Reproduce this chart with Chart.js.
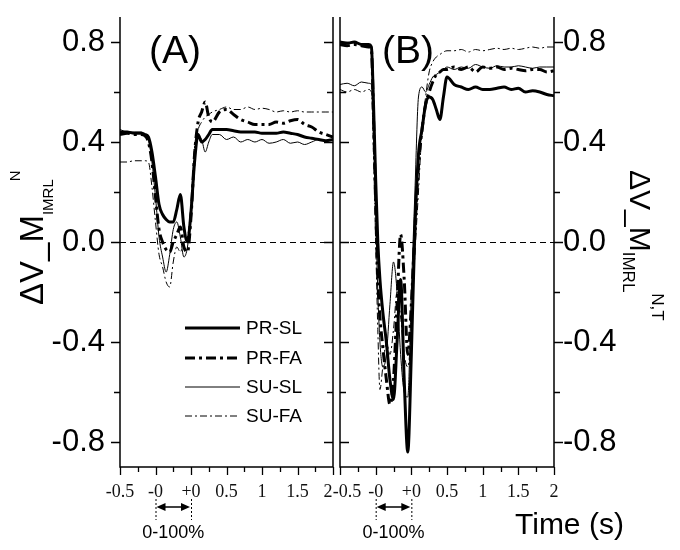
<!DOCTYPE html>
<html><head><meta charset="utf-8">
<script src="https://cdn.jsdelivr.net/npm/chart.js@4.4.0/dist/chart.umd.min.js"></script>
<style>
html,body{margin:0;padding:0;background:#fff;width:680px;height:550px;overflow:hidden}
#cA{position:absolute;left:0;top:0}
#cB{position:absolute;left:300px;top:0}
</style></head><body>
<canvas id="cA" width="340" height="550"></canvas>
<canvas id="cB" width="380" height="550"></canvas>
<script>
// ---- axis ticks ----
const xTickValues = [-0.5, 0, 0.5, 1, 1.5, 2, 2.5];
const xTickLabels = ["-0.5", "-0", "+0", "0.5", "1", "1.5", "2"];
const yTickValues = [-0.8, -0.4, 0, 0.4, 0.8];
const seriesNames = ["PR-SL", "PR-FA", "SU-SL", "SU-FA"];

// ---- panel (A) ----
const phaseA = [-0.5,-0.4,-0.3,-0.2,-0.15,-0.1,-0.05,0,0.05,0.1,0.15,0.2,0.25,0.3,0.35,0.4,0.45,0.5,0.55,0.6,0.65,0.7,0.75,0.8,0.9,1.0,1.1,1.2,1.3,1.4,1.5,1.6,1.7,1.8,1.9,2.0,2.1,2.2,2.3,2.4,2.5];
const prSL_A = [0.44,0.44,0.435,0.435,0.43,0.42,0.36,0.26,0.15,0.11,0.09,0.08,0.08,0.13,0.19,0.06,0.0,0.12,0.32,0.43,0.40,0.41,0.43,0.45,0.45,0.45,0.445,0.44,0.44,0.44,0.435,0.435,0.435,0.44,0.435,0.43,0.42,0.415,0.41,0.405,0.41];
const prFA_A = [0.43,0.435,0.43,0.43,0.425,0.40,0.32,0.18,0.05,0.0,-0.03,-0.04,0.0,0.03,0.06,-0.02,-0.04,0.10,0.35,0.48,0.52,0.56,0.50,0.48,0.52,0.53,0.51,0.49,0.48,0.47,0.47,0.47,0.48,0.475,0.485,0.49,0.47,0.46,0.44,0.43,0.42];
const suSL_A = [0.45,0.44,0.44,0.44,0.43,0.41,0.32,0.18,0.02,-0.06,-0.12,-0.05,0.05,0.08,0.02,-0.06,-0.02,0.12,0.32,0.42,0.41,0.36,0.40,0.43,0.43,0.41,0.42,0.40,0.41,0.40,0.41,0.395,0.40,0.41,0.395,0.40,0.39,0.40,0.41,0.405,0.41];
const suFA_A = [0.32,0.32,0.325,0.325,0.325,0.32,0.22,0.08,-0.05,-0.10,-0.16,-0.18,-0.08,-0.02,-0.04,0.0,0.02,0.15,0.38,0.45,0.48,0.50,0.51,0.52,0.53,0.54,0.53,0.53,0.54,0.53,0.535,0.53,0.52,0.525,0.52,0.525,0.52,0.52,0.52,0.52,0.52];

// ---- panel (B) ----
const phaseB = [-0.5,-0.4,-0.3,-0.2,-0.1,-0.06,-0.03,0,0.03,0.06,0.1,0.15,0.2,0.25,0.3,0.35,0.4,0.45,0.5,0.55,0.6,0.65,0.7,0.75,0.8,0.85,0.9,0.95,1.0,1.1,1.2,1.3,1.4,1.5,1.6,1.7,1.8,1.9,2.0,2.1,2.2,2.3,2.4,2.5];
const prSL_B = [0.80,0.795,0.80,0.79,0.79,0.78,0.55,0.25,0.0,-0.15,-0.28,-0.40,-0.55,-0.63,-0.40,-0.15,-0.55,-0.84,-0.45,0.05,0.35,0.45,0.55,0.58,0.57,0.53,0.49,0.58,0.66,0.63,0.62,0.61,0.62,0.61,0.61,0.615,0.62,0.61,0.615,0.60,0.605,0.60,0.59,0.585];
const prFA_B = [0.79,0.785,0.79,0.785,0.78,0.77,0.50,0.15,-0.15,-0.30,-0.42,-0.55,-0.65,-0.55,-0.25,0.03,-0.15,-0.45,-0.25,0.05,0.30,0.45,0.55,0.60,0.64,0.67,0.68,0.69,0.69,0.70,0.69,0.70,0.68,0.70,0.695,0.70,0.69,0.695,0.69,0.685,0.69,0.69,0.68,0.685];
const suSL_B = [0.63,0.635,0.625,0.64,0.635,0.63,0.45,0.12,-0.20,-0.40,-0.50,-0.45,-0.25,-0.08,-0.20,-0.45,-0.60,-0.62,-0.20,0.20,0.58,0.62,0.60,0.63,0.66,0.67,0.68,0.69,0.70,0.69,0.70,0.695,0.71,0.70,0.695,0.705,0.70,0.70,0.705,0.70,0.695,0.70,0.70,0.70];
const suFA_B = [0.61,0.60,0.61,0.60,0.61,0.60,0.35,0.0,-0.35,-0.59,-0.50,-0.40,-0.45,-0.35,-0.20,-0.30,-0.45,-0.50,-0.35,-0.05,0.20,0.45,0.58,0.68,0.72,0.74,0.75,0.76,0.765,0.765,0.77,0.76,0.77,0.765,0.77,0.775,0.77,0.775,0.77,0.775,0.78,0.775,0.78,0.78];

// ---- styles ----
const lineWidths = [3, 3, 1, 1];
const lineDashes = [[], [10, 4, 3, 4], [], [7, 3, 2, 3]];
const SANS = '"Liberation Sans", Arial, sans-serif';
const SERIF = '"Liberation Serif", "Times New Roman", serif';

function rich(ctx, x, y, rot, parts) {
  ctx.save();
  ctx.translate(x, y);
  ctx.rotate(rot);
  ctx.textAlign = 'left';
  ctx.textBaseline = 'alphabetic';
  let cx = 0;
  for (const p of parts) {
    ctx.font = p.size + 'px ' + SANS;
    ctx.fillText(p.text, cx + (p.dx || 0), p.dy);
    cx += ctx.measureText(p.text).width + (p.dx || 0);
  }
  ctx.restore();
}

function phaseMarker(ctx, xs) {
  const x0 = xs.getPixelForValue(0), x1 = xs.getPixelForValue(0.5);
  ctx.save();
  ctx.strokeStyle = '#000';
  ctx.lineWidth = 1;
  ctx.setLineDash([2, 2]);
  [x0, x1].forEach(px => { ctx.beginPath(); ctx.moveTo(px + 0.5, 499); ctx.lineTo(px + 0.5, 520); ctx.stroke(); });
  ctx.setLineDash([]);
  ctx.lineWidth = 1.5;
  const ay = 507;
  ctx.beginPath(); ctx.moveTo(x0 + 8, ay); ctx.lineTo(x1 - 8, ay); ctx.stroke();
  ctx.fillStyle = '#000';
  ctx.beginPath(); ctx.moveTo(x0 + 1, ay); ctx.lineTo(x0 + 10, ay - 4); ctx.lineTo(x0 + 10, ay + 4); ctx.closePath(); ctx.fill();
  ctx.beginPath(); ctx.moveTo(x1 - 1, ay); ctx.lineTo(x1 - 10, ay - 4); ctx.lineTo(x1 - 10, ay + 4); ctx.closePath(); ctx.fill();
  ctx.font = '18px ' + SANS;
  ctx.textAlign = 'center';
  ctx.textBaseline = 'alphabetic';
  ctx.fillText('0-100%', (x0 + x1) / 2, 538);
  ctx.restore();
}

const annotPlugin = {
  id: 'annot',
  beforeDraw(chart) {
    // nudge the labels where the two panels meet, as in the original figure
    const xs = chart.scales.x;
    const items = xs.getLabelItems(chart.chartArea);
    if (!items || !items.length) return;
    if (chart.canvas.id === 'cA') {
      const it = items[items.length - 1];
      it.options.translation[0] -= 5;
    } else {
      const it = items[0];
      it.options.translation[0] += 7;
    }
  },
  beforeDatasetsDraw(chart) {
    const { ctx, chartArea: a, scales: { y } } = chart;
    const y0 = Math.round(y.getPixelForValue(0)) + 0.5;
    ctx.save();
    ctx.strokeStyle = '#000';
    ctx.lineWidth = 1;
    ctx.setLineDash([6, 4]);
    ctx.beginPath(); ctx.moveTo(a.left, y0); ctx.lineTo(a.right, y0); ctx.stroke();
    ctx.restore();
  },
  afterDraw(chart) {
    const { ctx, chartArea: a, scales: { x, y } } = chart;
    const isA = chart.canvas.id === 'cA';
    ctx.save();
    ctx.strokeStyle = '#000';
    ctx.fillStyle = '#000';
    ctx.lineWidth = 1.5;
    ctx.beginPath();
    ctx.moveTo(a.left, a.top); ctx.lineTo(a.left, a.bottom); ctx.lineTo(a.right, a.bottom); ctx.lineTo(a.right, a.top);
    ctx.stroke();
    ctx.lineWidth = 1.3;
    for (let k = -4; k <= 4; k++) {
      const v = k * 0.2;
      const major = (k % 2 === 0);
      const L = major ? 9 : 6;
      const py = Math.round(y.getPixelForValue(v)) + 0.5;
      ctx.beginPath();
      if (isA) { ctx.moveTo(a.left - L, py); ctx.lineTo(a.left, py); ctx.moveTo(a.right, py); ctx.lineTo(a.right - L, py); }
      else { ctx.moveTo(a.left, py); ctx.lineTo(a.left + L, py); ctx.moveTo(a.right, py); ctx.lineTo(a.right + L, py); }
      ctx.stroke();
    }
    for (let k = 0; k <= 12; k++) {
      const v = -0.5 + k * 0.25;
      const L = (k % 2 === 0) ? 8 : 5;
      const px = Math.round(x.getPixelForValue(v)) + 0.5;
      ctx.beginPath(); ctx.moveTo(px, a.bottom); ctx.lineTo(px, a.bottom + L); ctx.stroke();
    }
    ctx.restore();

    ctx.save();
    ctx.fillStyle = '#000';
    ctx.textAlign = 'center';
    ctx.textBaseline = 'alphabetic';
    ctx.font = '39px ' + SANS;
    if (isA) {
      ctx.fillText('(A)', 175, 63);
      const rows = [328, 358, 387, 416];
      chart.data.datasets.forEach((ds, i) => {
        ctx.save();
        ctx.strokeStyle = '#000';
        ctx.lineWidth = ds.borderWidth;
        ctx.setLineDash(ds.borderDash);
        ctx.beginPath(); ctx.moveTo(185, rows[i]); ctx.lineTo(240, rows[i]); ctx.stroke();
        ctx.restore();
        ctx.font = '19px ' + SANS;
        ctx.textAlign = 'left';
        ctx.textBaseline = 'middle';
        ctx.fillText(ds.label, 246, rows[i] + 1);
      });
      rich(ctx, 43, 305, -Math.PI / 2, [
        { text: 'ΔV_M', size: 33, dy: 0 },
        { text: 'IMRL', size: 15, dy: 10 },
        { text: 'N', size: 15, dy: -23, dx: -2 }
      ]);
    } else {
      ctx.fillText('(B)', 108, 63);
      ctx.font = '30px ' + SANS;
      ctx.textAlign = 'left';
      ctx.fillText('Time (s)', 215, 534);
      rich(ctx, 330, 170, Math.PI / 2, [
        { text: 'ΔV_M', size: 30, dy: 0 },
        { text: 'IMRL', size: 17, dy: 7 },
        { text: 'N,T', size: 17, dy: -22, dx: 1 }
      ]);
    }
    ctx.restore();
    phaseMarker(ctx, x);
  }
};

function makeChart(id, phase, series, isA) {
  const datasets = series.map((vals, i) => ({
    label: seriesNames[i],
    data: phase.map((u, k) => ({ x: u, y: vals[k] })),
    borderColor: '#000',
    borderWidth: lineWidths[i],
    borderDash: lineDashes[i],
    borderCapStyle: 'butt',
    borderJoinStyle: 'round',
    pointRadius: 0,
    fill: false,
    cubicInterpolationMode: 'monotone'
  }));
  return new Chart(document.getElementById(id), {
    type: 'line',
    data: { datasets },
    options: {
      responsive: false,
      animation: false,
      events: [],
      layout: { padding: isA ? { left: 0, right: 7, top: 17, bottom: 0 } : { left: 40, right: 0, top: 17, bottom: 0 } },
      plugins: { legend: { display: false }, tooltip: { enabled: false } },
      scales: {
        x: {
          type: 'linear', min: -0.5, max: 2.5,
          grid: { display: false, drawTicks: false },
          border: { display: false },
          afterBuildTicks: s => { s.ticks = xTickValues.map(v => ({ value: v })); },
          afterFit: s => { s.height = 83; s.paddingLeft = 0; s.paddingRight = 0; },
          ticks: {
            autoSkip: false, maxRotation: 0, minRotation: 0, padding: 14, color: '#111',
            font: { family: SERIF, size: 18 },
            callback: (v, i) => xTickLabels[i]
          }
        },
        y: {
          type: 'linear', position: isA ? 'left' : 'right', min: -0.9, max: 0.9,
          grid: { display: false, drawTicks: false },
          border: { display: false },
          afterBuildTicks: s => { s.ticks = yTickValues.map(v => ({ value: v })); },
          afterFit: s => { s.width = isA ? 120 : 126; s.paddingTop = 0; s.paddingBottom = 0; },
          ticks: {
            padding: isA ? 15 : 9, color: '#000',
            font: { family: SANS, size: 31 },
            callback: v => Number(v).toFixed(1)
          }
        }
      }
    },
    plugins: [annotPlugin]
  });
}

makeChart('cA', phaseA, [prSL_A, prFA_A, suSL_A, suFA_A], true);
makeChart('cB', phaseB, [prSL_B, prFA_B, suSL_B, suFA_B], false);
</script>
</body></html>
